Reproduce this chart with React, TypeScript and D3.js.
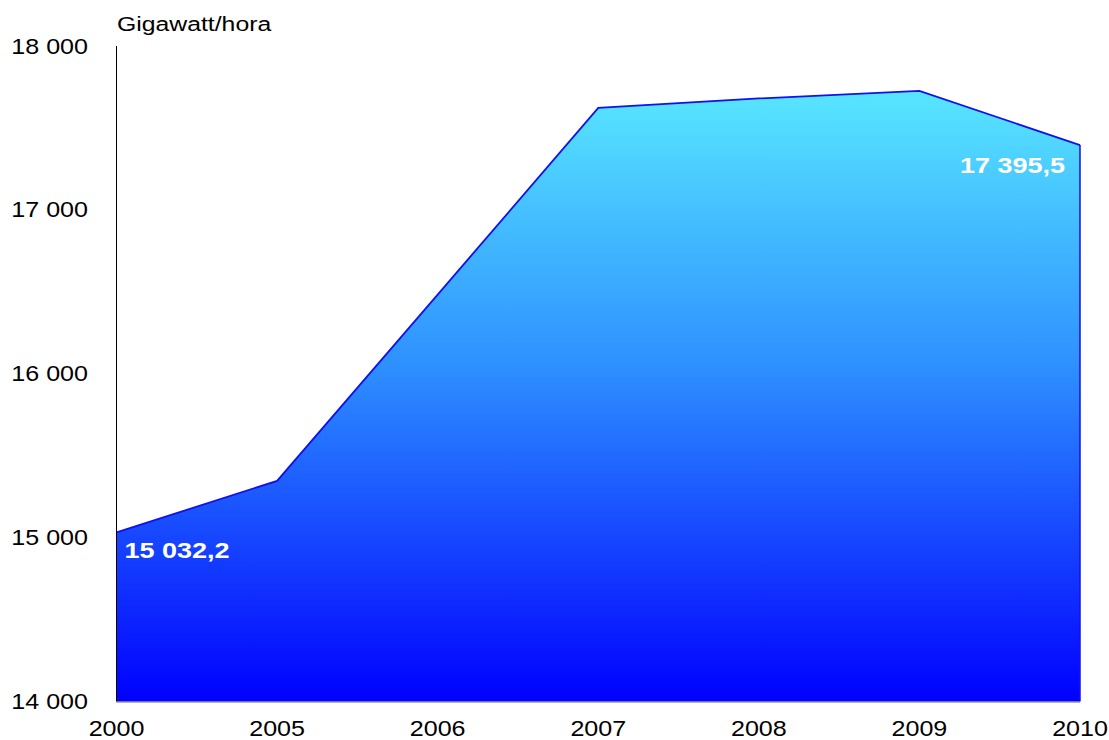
import React from "react";
import * as d3 from "d3";

const years = ["2000", "2005", "2006", "2007", "2008", "2009", "2010"];
const values = [15032.2, 15346, 16483, 17622, 17680, 17726, 17395.5];
const yTicks = [14000, 15000, 16000, 17000, 18000];
const unitLabel = "Gigawatt/hora";
const labelFirst = "15 032,2";
const labelLast = "17 395,5";

const W = 1109;
const H = 740;

const fmt = (v: number) => d3.format(",")(v).replace(/,/g, " ");

type TProps = {
  x: number;
  y: number;
  sx: number;
  size: number;
  anchor?: "start" | "middle" | "end";
  bold?: boolean;
  fill?: string;
  children: React.ReactNode;
};

function T({ x, y, sx, size, anchor = "start", bold = false, fill = "#000", children }: TProps) {
  return (
    <text
      transform={`translate(${x},${y}) scale(${sx},1)`}
      fontSize={size}
      textAnchor={anchor}
      fontWeight={bold ? "bold" : "normal"}
      fill={fill}
    >
      {children}
    </text>
  );
}

export default function App() {
  const x = d3.scalePoint<string>().domain(years).range([116.5, 1080]);
  const y = d3.scaleLinear().domain([14000, 18000]).range([701.5, 46]);
  const pts = years.map((yr, i) => ({ yr, v: values[i] }));
  const area = d3
    .area<{ yr: string; v: number }>()
    .x((d) => x(d.yr)!)
    .y0(y(14000))
    .y1((d) => y(d.v));
  const line = d3
    .line<{ yr: string; v: number }>()
    .x((d) => x(d.yr)!)
    .y((d) => y(d.v));
  const font = "'Liberation Sans', Arial, sans-serif";
  const x0 = x(years[0])!;
  const xN = x(years[years.length - 1])!;
  return (
    <svg
      width={W}
      height={H}
      style={{ position: "absolute", left: 0, top: 0, background: "#fff" }}
      fontFamily={font}
    >
      <defs>
        <linearGradient id="g" x1="0" y1="0" x2="0" y2="1">
          <stop offset="0" stopColor="#58E6FF" />
          <stop offset="0.45" stopColor="#2E90FF" />
          <stop offset="1" stopColor="#0000FF" />
        </linearGradient>
      </defs>
      <path d={area(pts)!} fill="url(#g)" />
      <path d={line(pts)!} fill="none" stroke="#1010F0" strokeWidth={1.8} />
      <line x1={xN} x2={xN} y1={y(values[values.length - 1])} y2={y(14000)} stroke="#1010F0" strokeWidth={1.5} />
      <line x1={x0} x2={xN} y1={y(14000) + 0.5} y2={y(14000) + 0.5} stroke="#666" strokeWidth={1} />
      <line x1={x0} x2={x0} y1={y(18000)} y2={y(14000)} stroke="#000" strokeWidth={1} />
      {yTicks.map((t) => (
        <T key={t} x={88} y={y(t) + 7.5} sx={1.14} size={22} anchor="end">
          {fmt(t)}
        </T>
      ))}
      {years.map((yr) => (
        <T key={yr} x={x(yr)!} y={736} sx={1.14} size={22} anchor="middle">
          {yr}
        </T>
      ))}
      <T x={117} y={31} sx={1.18} size={21}>
        {unitLabel}
      </T>
      <T x={x0 + 8} y={y(values[0]) + 26} sx={1.2} size={22.5} bold fill="#fff">
        {labelFirst}
      </T>
      <T x={1065} y={y(values[values.length - 1]) + 27.5} sx={1.2} size={22.5} bold fill="#fff" anchor="end">
        {labelLast}
      </T>
    </svg>
  );
}
